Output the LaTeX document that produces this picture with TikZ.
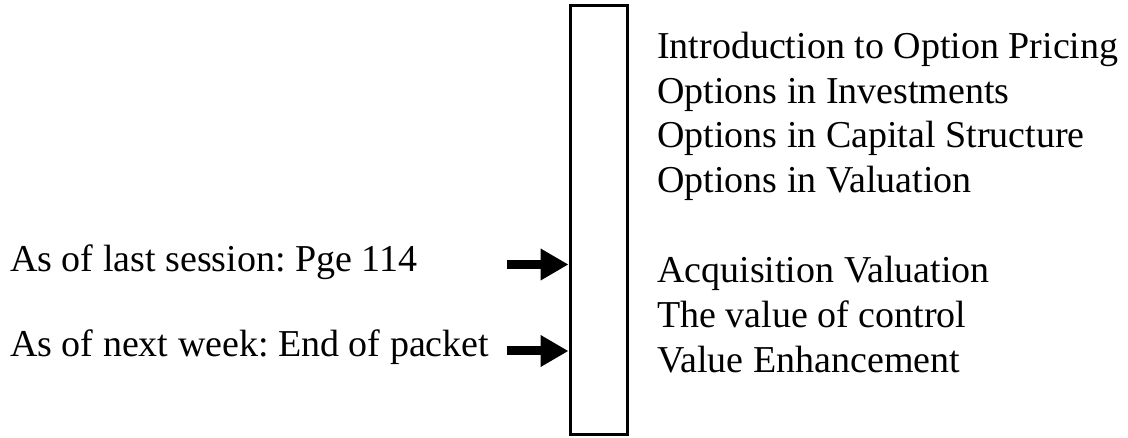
\documentclass[tikz,border=0pt]{standalone}
\usepackage{fontspec}
\setmainfont{Liberation Serif}
\frenchspacing
\usetikzlibrary{arrows.meta}
\begin{document}
\begin{tikzpicture}[x=1pt,y=-1pt,
  lbl/.style={anchor=base west,inner sep=0pt,font=\fontsize{38}{45}\selectfont},
  fatarrow/.style={line width=9pt,-{Triangle[length=28pt,width=30pt]}},
  bar/.style={draw,line width=3pt,inner sep=0pt,minimum width=57.5pt,minimum height=429.5pt}]
\useasboundingbox (0,0) rectangle (1128,438);
\node[bar] (bar) at (598.75,220.25) {};
\node[lbl] (t1) at (657,59) {Introduction to Option Pricing};
\node[lbl] (t2) at (657,103.5) {Options in Investments};
\node[lbl] (t3) at (657,148) {Options in Capital Structure};
\node[lbl] (t4) at (657,193) {Options in Valuation};
\node[lbl] (t5) at (657,283) {Acquisition Valuation};
\node[lbl] (t6) at (657,328) {The value of control};
\node[lbl] (t7) at (657,372.5) {Value Enhancement};
\node[lbl] (l1) at (10,272) {As of last session: Pge 114};
\node[lbl] (l2) at (10,357) {As of next week: End of packet};
\coordinate (s1) at (507,264.5);
\coordinate (s2) at (507,351);
\draw[fatarrow] (s1) -- (s1 -| bar.west);
\draw[fatarrow] (s2) -- (s2 -| bar.west);
\end{tikzpicture}
\end{document}
